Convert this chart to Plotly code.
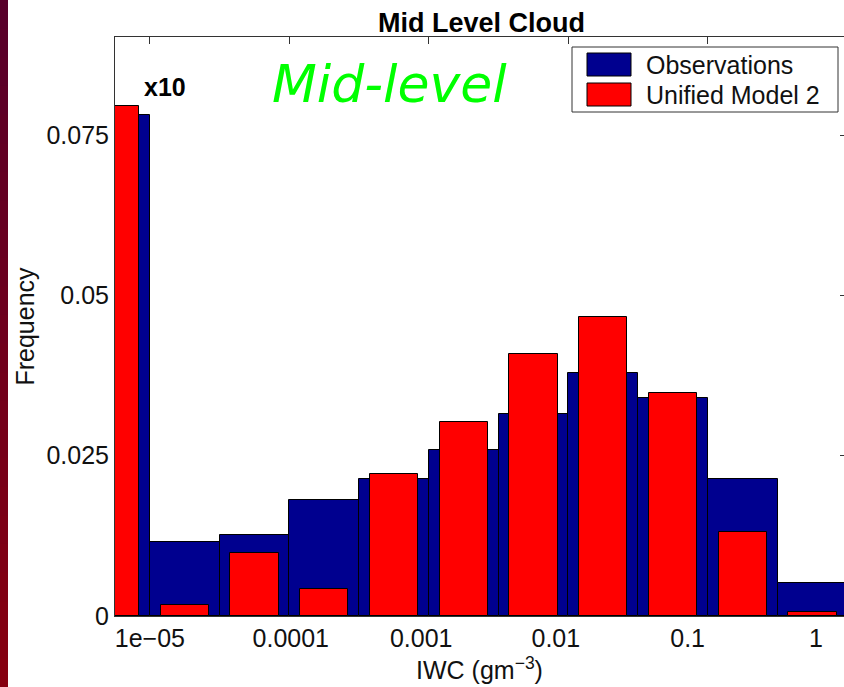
import plotly.graph_objects as go

# ---------------- data ----------------
bins = list(range(1, 12))
observations = [0.0782, 0.0115, 0.0126, 0.0181, 0.0214, 0.0259, 0.0315, 0.0379, 0.0340, 0.0214, 0.0051]
unified_model_2 = [0.0796, 0.0017, 0.0098, 0.0042, 0.0221, 0.0302, 0.0409, 0.0466, 0.0348, 0.0131, 0.0006]
x_tick_labels = ["1e\u221205", "0.0001", "0.001", "0.01", "0.1", "1"]
x_tick_pos = [1.50, 3.52, 5.39, 7.32, 9.21, 11.05]
bin_edge_ticks = [1.5, 3.5, 5.5, 7.5, 9.5]
y_tick_vals = [0, 0.025, 0.05, 0.075]
y_tick_labels = ["0", "0.025", "0.05", "0.075"]
series_names = ["Observations", "Unified Model 2"]

# ---------------- layout constants ----------------
W, H = 844, 687
ML, MR, MT, MB = 115, 0, 37, 71
PW = W - ML - MR
PH = H - MT - MB
px_per_bin = 69.75
xr = [1, 1 + PW / px_per_bin]
yr = [0, 0.0903]
FONT = "Liberation Sans, Arial, Helvetica, sans-serif"
BLUE = "#00008F"
RED = "#FF0000"
AX = "#333333"


def px_x(p):
    return (p - ML) / PW


def px_y(p):
    return (H - MB - p) / PH


fig = go.Figure()
fig.add_bar(x=bins, y=observations, width=1.0, name=series_names[0],
            marker=dict(color=BLUE, line=dict(color="#000000", width=1)),
            showlegend=False)
fig.add_bar(x=bins, y=unified_model_2, width=0.69, name=series_names[1],
            marker=dict(color=RED, line=dict(color="#000000", width=1)),
            showlegend=False)
# empty trace to host the mirrored (top / right) axes
fig.add_scatter(x=[None], y=[None], xaxis="x2", yaxis="y2", mode="markers",
                showlegend=False, hoverinfo="skip")

shapes = []
# slide background strip on the left edge (gradient)
n = 24
c0 = (0x58, 0x00, 0x2A)
c1 = (0x86, 0x00, 0x10)
for i in range(n):
    t = i / (n - 1)
    col = "rgb(%d,%d,%d)" % tuple(round(a + (b - a) * t) for a, b in zip(c0, c1))
    shapes.append(dict(type="rect", xref="paper", yref="paper",
                       x0=px_x(0), x1=px_x(8),
                       y0=px_y(i * H / n), y1=px_y((i + 1) * H / n + 1),
                       fillcolor=col, line=dict(width=0), layer="below"))

# legend box and swatches
shapes.append(dict(type="rect", xref="paper", yref="paper",
                   x0=px_x(572), x1=px_x(838), y0=px_y(112), y1=px_y(47),
                   fillcolor="white", line=dict(color=AX, width=1), layer="above"))
shapes.append(dict(type="rect", xref="paper", yref="paper",
                   x0=px_x(587), x1=px_x(631), y0=px_y(76), y1=px_y(53),
                   fillcolor=BLUE, line=dict(color="#000000", width=1), layer="above"))
shapes.append(dict(type="rect", xref="paper", yref="paper",
                   x0=px_x(587), x1=px_x(631), y0=px_y(106), y1=px_y(83),
                   fillcolor=RED, line=dict(color="#000000", width=1), layer="above"))

annotations = [
    dict(text="<b>Mid Level Cloud</b>", xref="paper", yref="paper",
         x=px_x(481), y=px_y(23), xanchor="center", yanchor="middle",
         showarrow=False, font=dict(family=FONT, size=27, color="#000000")),
    dict(text="<b>x10</b>", xref="x", yref="y", x=1.72, y=0.0825,
         xanchor="center", yanchor="middle", showarrow=False,
         font=dict(family=FONT, size=25, color="#000000")),
    dict(text="<i>Mid-level</i>", xref="paper", yref="paper",
         x=px_x(389), y=px_y(84), xanchor="center", yanchor="middle",
         showarrow=False, font=dict(family="DejaVu Sans", size=52, color="#00FF00")),
    dict(text=series_names[0], xref="paper", yref="paper",
         x=px_x(644), y=px_y(65), xanchor="left", yanchor="middle",
         showarrow=False, font=dict(family=FONT, size=25, color="#111111")),
    dict(text=series_names[1], xref="paper", yref="paper",
         x=px_x(644), y=px_y(95), xanchor="left", yanchor="middle",
         showarrow=False, font=dict(family=FONT, size=25, color="#111111")),
]

fig.update_layout(
    width=W, height=H,
    margin=dict(l=ML, r=MR, t=MT, b=MB, pad=0, autoexpand=False),
    paper_bgcolor="white", plot_bgcolor="white",
    barmode="overlay", bargap=0,
    showlegend=False,
    font=dict(family=FONT, size=25, color="#111111"),
    xaxis=dict(range=xr, tickvals=x_tick_pos, ticktext=x_tick_labels, ticks="",
               showline=True, linecolor=AX, linewidth=1, showgrid=False, zeroline=False,
               automargin=False,
               layer="below traces", tickfont=dict(family=FONT, size=25, color="#111111"),
               title=dict(text="IWC (gm<sup>\u22123</sup>)", standoff=10,
                          font=dict(family=FONT, size=25, color="#111111"))),
    yaxis=dict(range=yr, tickvals=y_tick_vals, ticktext=y_tick_labels, ticks="",
               showline=True, linecolor=AX, linewidth=1, showgrid=False, zeroline=False,
               automargin=False,
               layer="below traces", tickfont=dict(family=FONT, size=25, color="#111111"),
               title=dict(text="Frequency", standoff=4,
                          font=dict(family=FONT, size=25, color="#111111"))),
    xaxis2=dict(range=xr, overlaying="x", side="top", anchor="y2",
                tickvals=bin_edge_ticks, ticks="inside", ticklen=7, tickcolor=AX,
                showticklabels=False, showline=True, linecolor=AX, linewidth=1,
                showgrid=False, zeroline=False, automargin=False),
    yaxis2=dict(range=yr, overlaying="y", side="right", anchor="x2",
                tickvals=y_tick_vals[1:], ticks="inside", ticklen=4, tickcolor=AX,
                showticklabels=False, showline=False, showgrid=False, zeroline=False,
                automargin=False),
    shapes=shapes,
    annotations=annotations,
)

fig.write_html("out.html",
               config={"displayModeBar": False},
               post_script="document.body.style.margin='0';document.body.style.padding='0';document.body.style.overflow='hidden';")
